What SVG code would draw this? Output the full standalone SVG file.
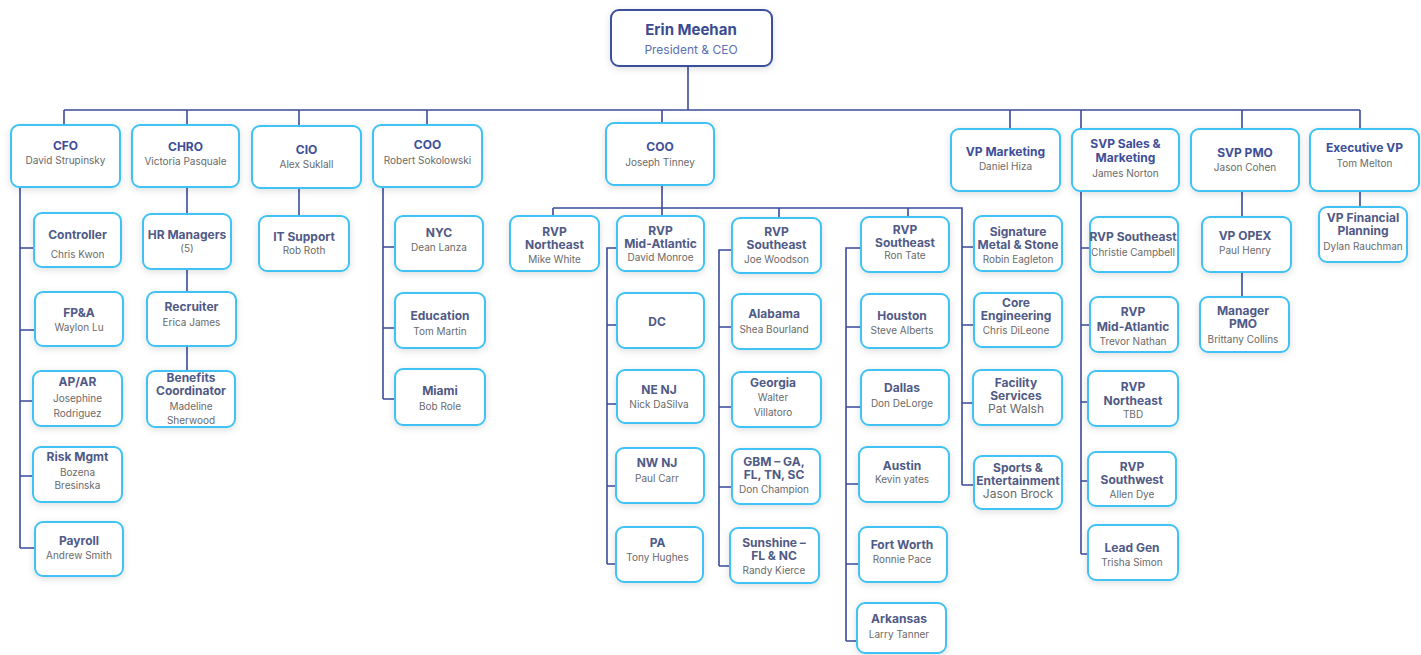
<svg xmlns="http://www.w3.org/2000/svg" width="1421" height="655" viewBox="0 0 1421 655">
<defs>
<filter id="sh" x="-20%" y="-20%" width="140%" height="150%">
<feDropShadow dx="0" dy="2" stdDeviation="3.5" flood-color="#000" flood-opacity="0.13"/>
</filter>
<style>
text{font-family:Inter,"Liberation Sans",sans-serif;text-anchor:middle}
.n{fill:#fff;stroke:#3fc2f4;stroke-width:2;filter:url(#sh)}
.ceo{fill:#fff;stroke:#3b4f9f;stroke-width:2;filter:url(#sh)}
.c{fill:none;stroke:#3a4b9b;stroke-width:1.6}
.t{font-size:12px;font-weight:700;fill:#505a86}
.tt{font-size:12px;font-weight:700;fill:#3e4e98}
.s{font-size:10px;fill:#6a6a6a}
.s2{font-size:12px;fill:#6a6a6a}
.ct{font-size:15px;font-weight:700;fill:#3b4b92}
.cs{font-size:12px;fill:#5b6fb2}
</style>
</defs>
<rect width="1421" height="655" fill="#fff"/>
<g id="connectors">
<path class="c" d="M688 66V110M64 110H1360M64 110V125M187 110V125M299 110V126M427 110V125M662 110V123M1010 110V129M1081 110V554M1242 110V129M1360 110V129"/>
<path class="c" d="M20 187V548M20 248H34M20 330H35M20 401H33M20 476H33M20 548H35"/>
<path class="c" d="M187 187V214M187 269V292M187 346V371"/>
<path class="c" d="M299 188V216"/>
<path class="c" d="M383 187V399M383 247H395M383 328H395M383 399H395"/>
<path class="c" d="M662 185V216M553 208H962V485M553 208V216M779 208V218M908 208V217M962 247H974M962 325H974M962 403H973M962 485H974"/>
<path class="c" d="M617 248H607V564M607 325H617M607 404H617M607 486H616M607 564H616"/>
<path class="c" d="M732 250H719V566M719 327H732M719 407H732M719 487H732M719 566H730"/>
<path class="c" d="M861 248H846V641M846 327H861M846 407H861M846 484H859M846 564H859M846 641H857"/>
<path class="c" d="M1081 248H1090M1081 325H1090M1081 402H1088M1081 481H1088M1081 554H1088"/>
<path class="c" d="M1242 191V217M1242 272V297M1360 191V207"/>
</g>
<g id="ceo"><rect class="ceo" x="611" y="10" width="161" height="56" rx="8"/><text class="ct" x="691" y="35">Erin Meehan</text><text class="cs" x="691" y="54">President &amp; CEO</text></g>
<g id="cfo"><rect class="n" x="11" y="125" width="109" height="62" rx="8"/><text class="tt" x="65.5" y="150">CFO</text><text class="s" x="65.5" y="163.5">David Strupinsky</text></g>
<g id="chro"><rect class="n" x="132" y="125" width="107" height="62" rx="8"/><text class="tt" x="185.5" y="151">CHRO</text><text class="s" x="185.5" y="165">Victoria Pasquale</text></g>
<g id="cio"><rect class="n" x="252" y="126" width="109" height="62" rx="8"/><text class="tt" x="306.5" y="154">CIO</text><text class="s" x="306.5" y="167.5">Alex Suklall</text></g>
<g id="coo-robert"><rect class="n" x="373" y="125" width="109" height="62" rx="8"/><text class="tt" x="427.5" y="149">COO</text><text class="s" x="427.5" y="163.5">Robert Sokolowski</text></g>
<g id="coo-joseph"><rect class="n" x="606" y="123" width="108" height="62" rx="8"/><text class="tt" x="660" y="151">COO</text><text class="s" x="660" y="165.5">Joseph Tinney</text></g>
<g id="vp-marketing"><rect class="n" x="951" y="129" width="109" height="62" rx="8"/><text class="tt" x="1005.5" y="156">VP Marketing</text><text class="s" x="1005.5" y="169.5">Daniel Hiza</text></g>
<g id="svp-sales"><rect class="n" x="1072" y="129" width="107" height="62" rx="8"/><text class="tt" x="1125.5" y="148">SVP Sales &amp;</text><text class="tt" x="1125.5" y="162">Marketing</text><text class="s" x="1125.5" y="177">James Norton</text></g>
<g id="svp-pmo"><rect class="n" x="1191" y="129" width="108" height="62" rx="8"/><text class="tt" x="1245" y="157">SVP PMO</text><text class="s" x="1245" y="170.5">Jason Cohen</text></g>
<g id="exec-vp"><rect class="n" x="1310" y="129" width="109" height="62" rx="8"/><text class="tt" x="1364.5" y="152">Executive VP</text><text class="s" x="1364.5" y="166.5">Tom Melton</text></g>

<g id="controller"><rect class="n" x="34" y="213" width="87" height="54" rx="8"/><text class="t" x="77.5" y="239">Controller</text><text class="s" x="77.5" y="257.5">Chris Kwon</text></g>
<g id="fpa"><rect class="n" x="35" y="292" width="88" height="54" rx="8"/><text class="t" x="79" y="317">FP&amp;A</text><text class="s" x="79" y="330.5">Waylon Lu</text></g>
<g id="apar"><rect class="n" x="33" y="371" width="89" height="55" rx="8"/><text class="t" x="77.5" y="386">AP/AR</text><text class="s" x="77.5" y="401.5">Josephine</text><text class="s" x="77.5" y="416.5">Rodriguez</text></g>
<g id="risk"><rect class="n" x="33" y="447" width="89" height="55" rx="8"/><text class="t" x="77.5" y="461">Risk Mgmt</text><text class="s" x="77.5" y="475.5">Bozena</text><text class="s" x="77.5" y="488.5">Bresinska</text></g>
<g id="payroll"><rect class="n" x="35" y="522" width="88" height="54" rx="8"/><text class="t" x="79" y="545">Payroll</text><text class="s" x="79" y="558.5">Andrew Smith</text></g>

<g id="hr"><rect class="n" x="143" y="214" width="88" height="55" rx="8"/><text class="t" x="187" y="239">HR Managers</text><text class="s" x="187" y="252">(5)</text></g>
<g id="recruiter"><rect class="n" x="147" y="292" width="89" height="54" rx="8"/><text class="t" x="191.5" y="311">Recruiter</text><text class="s" x="191.5" y="325.5">Erica James</text></g>
<g id="benefits"><rect class="n" x="147" y="371" width="88" height="56" rx="8"/><text class="t" x="191" y="382">Benefits</text><text class="t" x="191" y="395">Coordinator</text><text class="s" x="191" y="409.5">Madeline</text><text class="s" x="191" y="423.5">Sherwood</text></g>

<g id="it-support"><rect class="n" x="259" y="216" width="90" height="55" rx="8"/><text class="t" x="304" y="241">IT Support</text><text class="s" x="304" y="253.5">Rob Roth</text></g>

<g id="nyc"><rect class="n" x="395" y="216" width="88" height="55" rx="8"/><text class="t" x="439" y="237">NYC</text><text class="s" x="439" y="250.5">Dean Lanza</text></g>
<g id="education"><rect class="n" x="395" y="293" width="90" height="55" rx="8"/><text class="t" x="440" y="320">Education</text><text class="s" x="440" y="334.5">Tom Martin</text></g>
<g id="miami"><rect class="n" x="395" y="369" width="90" height="56" rx="8"/><text class="t" x="440" y="395">Miami</text><text class="s" x="440" y="409.5">Bob Role</text></g>

<g id="rvp-northeast-1"><rect class="n" x="510" y="216" width="89" height="55" rx="8"/><text class="t" x="554.5" y="236">RVP</text><text class="t" x="554.5" y="249">Northeast</text><text class="s" x="554.5" y="262.5">Mike White</text></g>
<g id="rvp-midatlantic-1"><rect class="n" x="617" y="216" width="87" height="55" rx="8"/><text class="t" x="660.5" y="235">RVP</text><text class="t" x="660.5" y="248">Mid-Atlantic</text><text class="s" x="660.5" y="261">David Monroe</text></g>
<g id="rvp-southeast-1"><rect class="n" x="732" y="218" width="89" height="55" rx="8"/><text class="t" x="776.5" y="236">RVP</text><text class="t" x="776.5" y="249">Southeast</text><text class="s" x="776.5" y="262.5">Joe Woodson</text></g>
<g id="rvp-southeast-2"><rect class="n" x="861" y="217" width="88" height="55" rx="8"/><text class="t" x="905" y="234">RVP</text><text class="t" x="905" y="247">Southeast</text><text class="s" x="905" y="259">Ron Tate</text></g>

<g id="dc"><rect class="n" x="617" y="293" width="87" height="55" rx="8"/><text class="t" x="657" y="326">DC</text></g>
<g id="ne-nj"><rect class="n" x="617" y="370" width="87" height="53" rx="8"/><text class="t" x="659" y="394">NE NJ</text><text class="s" x="659" y="407.5">Nick DaSilva</text></g>
<g id="nw-nj"><rect class="n" x="616" y="448" width="88" height="55" rx="8"/><text class="t" x="657" y="467">NW NJ</text><text class="s" x="657" y="481.5">Paul Carr</text></g>
<g id="pa"><rect class="n" x="616" y="527" width="87" height="55" rx="8"/><text class="t" x="657.5" y="547">PA</text><text class="s" x="657.5" y="560.5">Tony Hughes</text></g>

<g id="alabama"><rect class="n" x="732" y="294" width="89" height="55" rx="8"/><text class="t" x="774" y="318">Alabama</text><text class="s" x="774" y="332.5">Shea Bourland</text></g>
<g id="georgia"><rect class="n" x="732" y="372" width="89" height="55" rx="8"/><text class="t" x="773" y="387">Georgia</text><text class="s" x="773" y="400.5">Walter</text><text class="s" x="773" y="415.5">Villatoro</text></g>
<g id="gbm"><rect class="n" x="732" y="449" width="88" height="55" rx="8"/><text class="t" x="774" y="466">GBM – GA,</text><text class="t" x="774" y="479">FL, TN, SC</text><text class="s" x="774" y="493">Don Champion</text></g>
<g id="sunshine"><rect class="n" x="730" y="528" width="89" height="55" rx="8"/><text class="t" x="774" y="547">Sunshine –</text><text class="t" x="774" y="560">FL &amp; NC</text><text class="s" x="774" y="574">Randy Kierce</text></g>

<g id="houston"><rect class="n" x="861" y="294" width="88" height="54" rx="8"/><text class="t" x="902" y="320">Houston</text><text class="s" x="902" y="333.5">Steve Alberts</text></g>
<g id="dallas"><rect class="n" x="861" y="370" width="88" height="55" rx="8"/><text class="t" x="902" y="392">Dallas</text><text class="s" x="902" y="406.5">Don DeLorge</text></g>
<g id="austin"><rect class="n" x="859" y="447" width="90" height="55" rx="8"/><text class="t" x="902" y="470">Austin</text><text class="s" x="902" y="482.5">Kevin yates</text></g>
<g id="fort-worth"><rect class="n" x="859" y="527" width="88" height="55" rx="8"/><text class="t" x="902" y="549">Fort Worth</text><text class="s" x="902" y="562.5">Ronnie Pace</text></g>
<g id="arkansas"><rect class="n" x="857" y="603" width="89" height="50" rx="8"/><text class="t" x="899" y="623">Arkansas</text><text class="s" x="899" y="637.5">Larry Tanner</text></g>

<g id="signature"><rect class="n" x="974" y="216" width="88" height="55" rx="8"/><text class="t" x="1018" y="236">Signature</text><text class="t" x="1018" y="249">Metal &amp; Stone</text><text class="s" x="1018" y="262.5">Robin Eagleton</text></g>
<g id="core-eng"><rect class="n" x="974" y="293" width="88" height="54" rx="8"/><text class="t" x="1016" y="307">Core</text><text class="t" x="1016" y="320">Engineering</text><text class="s" x="1016" y="334">Chris DiLeone</text></g>
<g id="facility"><rect class="n" x="973" y="370" width="89" height="55" rx="8"/><text class="t" x="1016" y="387">Facility</text><text class="t" x="1016" y="400">Services</text><text class="s2" x="1016" y="413">Pat Walsh</text></g>
<g id="sports"><rect class="n" x="974" y="456" width="88" height="53" rx="8"/><text class="t" x="1018" y="472">Sports &amp;</text><text class="t" x="1018" y="485">Entertainment</text><text class="s2" x="1018" y="498">Jason Brock</text></g>

<g id="rvp-southeast-3"><rect class="n" x="1090" y="217" width="88" height="55" rx="8"/><text class="t" x="1133" y="241">RVP Southeast</text><text class="s" x="1133" y="255.5">Christie Campbell</text></g>
<g id="rvp-midatlantic-2"><rect class="n" x="1090" y="297" width="88" height="55" rx="8"/><text class="t" x="1133" y="316">RVP</text><text class="t" x="1133" y="331">Mid-Atlantic</text><text class="s" x="1133" y="344.5">Trevor Nathan</text></g>
<g id="rvp-northeast-2"><rect class="n" x="1088" y="371" width="90" height="55" rx="8"/><text class="t" x="1133" y="391">RVP</text><text class="t" x="1133" y="405">Northeast</text><text class="s" x="1133" y="418">TBD</text></g>
<g id="rvp-southwest"><rect class="n" x="1088" y="452" width="88" height="54" rx="8"/><text class="t" x="1132" y="471">RVP</text><text class="t" x="1132" y="484">Southwest</text><text class="s" x="1132" y="498">Allen Dye</text></g>
<g id="lead-gen"><rect class="n" x="1088" y="525" width="90" height="55" rx="8"/><text class="t" x="1132" y="552">Lead Gen</text><text class="s" x="1132" y="565.5">Trisha Simon</text></g>

<g id="vp-opex"><rect class="n" x="1202" y="217" width="89" height="55" rx="8"/><text class="t" x="1245" y="240">VP OPEX</text><text class="s" x="1245" y="253.5">Paul Henry</text></g>
<g id="manager-pmo"><rect class="n" x="1200" y="297" width="89" height="55" rx="8"/><text class="t" x="1243" y="315">Manager</text><text class="t" x="1243" y="328">PMO</text><text class="s" x="1243" y="342.5">Brittany Collins</text></g>

<g id="vp-financial"><rect class="n" x="1319" y="207" width="88" height="55" rx="8"/><text class="t" x="1363" y="222">VP Financial</text><text class="t" x="1363" y="235">Planning</text><text class="s" x="1363" y="250">Dylan Rauchman</text></g>
</svg>
